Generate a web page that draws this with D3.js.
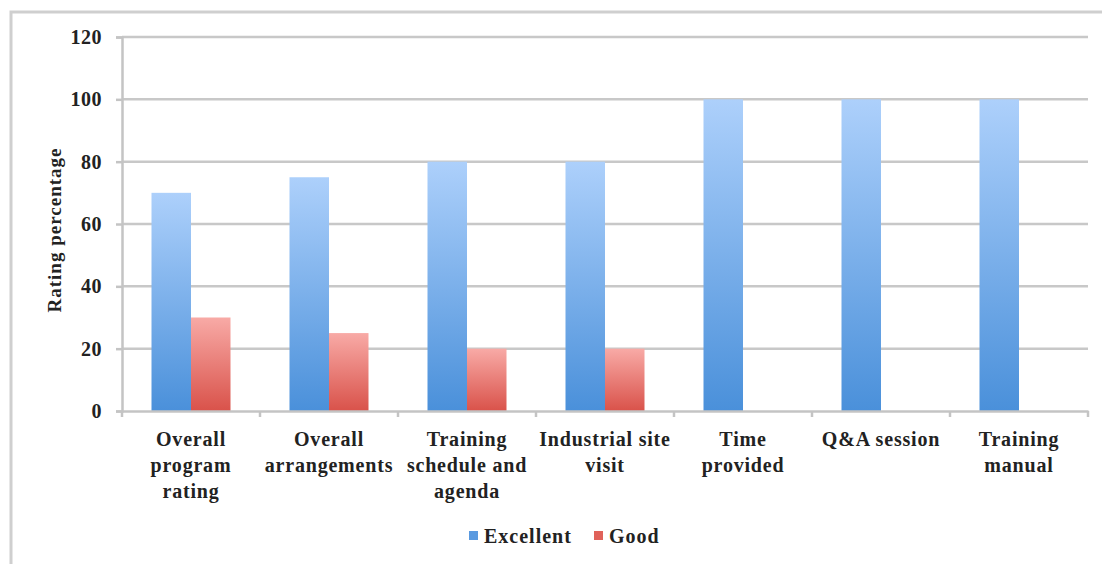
<!DOCTYPE html>
<html>
<head>
<meta charset="utf-8">
<script src="https://cdn.jsdelivr.net/npm/d3@7"></script>
<style>
  body { margin: 0; background: #fff; }
  text { font-family: "Liberation Serif", "DejaVu Serif", serif; fill: #222; }
</style>
</head>
<body>
<svg id="chart" width="1102" height="564"></svg>
<script>
// categories and series
var categories = [
    ["Overall", "program", "rating"],
    ["Overall", "arrangements"],
    ["Training", "schedule and", "agenda"],
    ["Industrial site", "visit"],
    ["Time", "provided"],
    ["Q&A session"],
    ["Training", "manual"]
]
var excellent = [70, 75, 80, 80, 100, 100, 100]
var good = [30, 25, 20, 20, 0, 0, 0]
var seriesNames = ["Excellent", "Good"]
var yTicks = [0, 20, 40, 60, 80, 100, 120]

var svg = d3.select("#chart")

// outer frame
svg.append("rect")
    .attr("x", 11).attr("y", 12)
    .attr("width", 1200).attr("height", 700)
    .attr("fill", "none").attr("stroke", "#cfcfcf").attr("stroke-width", 3)

var plotLeft = 122, plotRight = 1088, plotTop = 37, plotBottom = 411

var x = d3.scaleBand().domain(d3.range(categories.length)).range([plotLeft, plotRight])
var xSeries = d3.scaleBand().domain([0, 1]).range([0, 79])
var y = d3.scaleLinear().domain([0, 120]).range([plotBottom, plotTop])

var defs = svg.append("defs")
function grad(id, c1, c2) {
    var g = defs.append("linearGradient").attr("id", id)
        .attr("x1", 0).attr("y1", 0).attr("x2", 0).attr("y2", 1)
    g.append("stop").attr("offset", "0%").attr("stop-color", c1)
    g.append("stop").attr("offset", "100%").attr("stop-color", c2)
}
grad("gEx", "#add0fb", "#4a90da")
grad("gGd", "#f8aaa6", "#d9524a")

// gridlines
svg.append("g").selectAll("line")
    .data(yTicks.filter(function(d) { return d > 0 }))
    .enter().append("line")
    .attr("x1", plotLeft).attr("x2", plotRight)
    .attr("y1", function(d) { return y(d) }).attr("y2", function(d) { return y(d) })
    .attr("stroke", "#c8c8c8").attr("stroke-width", 2.5)

// y axis
var yAxis = svg.append("g")
    .attr("transform", "translate(" + plotLeft + ",0)")
    .call(d3.axisLeft(y).tickValues(yTicks).tickSize(6).tickPadding(14))
yAxis.select(".domain").attr("stroke", "#c4c4c4").attr("stroke-width", 2.5)
yAxis.selectAll(".tick line").attr("stroke", "#c4c4c4").attr("stroke-width", 2.5)
yAxis.selectAll(".tick text")
    .style("font-size", "20px").style("font-weight", "bold")
    .style("letter-spacing", "0.5px")
    .style("font-family", "Liberation Serif, serif").attr("fill", "#222")

// bars
var groups = svg.append("g").selectAll("g")
    .data(categories)
    .enter().append("g")
    .attr("transform", function(d, i) { return "translate(" + (x(i) + (x.bandwidth() - 79) / 2) + ",0)" })

groups.append("rect")
    .attr("x", xSeries(0)).attr("width", xSeries.bandwidth())
    .attr("y", function(d, i) { return y(excellent[i]) })
    .attr("height", function(d, i) { return y(0) - y(excellent[i]) })
    .attr("fill", "url(#gEx)")

groups.append("rect")
    .attr("x", xSeries(1)).attr("width", xSeries.bandwidth())
    .attr("y", function(d, i) { return y(good[i]) })
    .attr("height", function(d, i) { return y(0) - y(good[i]) })
    .attr("fill", "url(#gGd)")

// x axis
var xAxis = svg.append("g")
    .attr("transform", "translate(0," + plotBottom + ")")
    .call(d3.axisBottom(x).tickSize(0).tickFormat(""))
xAxis.select(".domain").attr("stroke", "#c4c4c4").attr("stroke-width", 2.5)

svg.append("g").selectAll("line")
    .data(d3.range(categories.length + 1))
    .enter().append("line")
    .attr("x1", function(i) { return plotLeft + i * x.step() })
    .attr("x2", function(i) { return plotLeft + i * x.step() })
    .attr("y1", plotBottom).attr("y2", plotBottom + 6)
    .attr("stroke", "#c4c4c4").attr("stroke-width", 2.5)

var labels = svg.append("g").selectAll("text")
    .data(categories)
    .enter().append("text")
    .attr("text-anchor", "middle")
    .style("font-size", "20px").style("font-weight", "bold")
    .style("letter-spacing", "0.8px")
labels.selectAll("tspan")
    .data(function(d, i) { return d.map(function(s) { return {s: s, i: i} }) })
    .enter().append("tspan")
    .attr("x", function(d) { return x(d.i) + x.bandwidth() / 2 })
    .attr("y", function(d, j) { return 446 + j * 26 })
    .text(function(d) { return d.s })

// y title
svg.append("text")
    .attr("transform", "translate(61,230) rotate(-90)")
    .attr("text-anchor", "middle")
    .style("font-size", "19px").style("font-weight", "bold")
    .style("letter-spacing", "1px")
    .text("Rating percentage")

// legend
var legendX = [469, 594]
var legend = svg.append("g").selectAll("g")
    .data(seriesNames)
    .enter().append("g")
    .attr("transform", function(d, i) { return "translate(" + legendX[i] + ",531)" })
legend.append("rect")
    .attr("width", 9).attr("height", 9)
    .attr("fill", function(d, i) { return i == 0 ? "#5a9ae0" : "#e0625a" })
legend.append("text")
    .attr("x", 15).attr("y", 12)
    .style("font-size", "20px").style("font-weight", "bold")
    .style("letter-spacing", "1px")
    .text(function(d) { return d })
</script>
</body>
</html>
